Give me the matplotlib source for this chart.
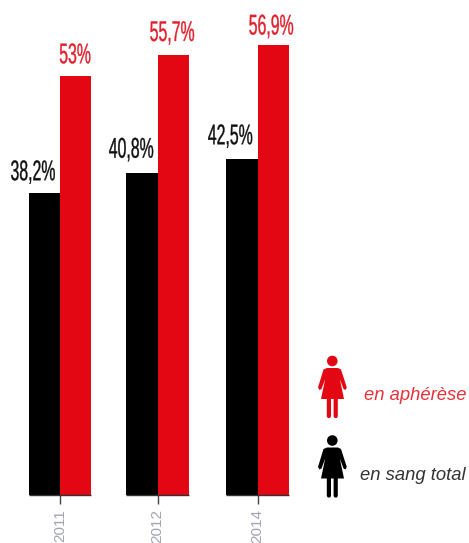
#! /usr/bin/env python3

import matplotlib
matplotlib.use('Agg')
import matplotlib.pyplot as plt
import numpy as np
from matplotlib.patches import Circle, Polygon
from matplotlib.patheffects import AbstractPathEffect
from matplotlib.transforms import Affine2D

years = ['2011', '2012', '2014']
sang_total = [38.2, 40.8, 42.5]
apherese = [53, 55.7, 56.9]
sang_labels = ['38,2%', '40,8%', '42,5%']
apherese_labels = ['53%', '55,7%', '56,9%']

RED = '#e30613'
W, H = 469, 543
BASE = 495          # pixel row of the baseline
PX_PER_UNIT = 98.75  # pixels between two groups


class Squeeze(AbstractPathEffect):
    # no condensed font here, so narrow the glyphs from their left edge
    def __init__(self, sx, stroke):
        super().__init__()
        self.sx = sx
        self.stroke = stroke

    def draw_path(self, renderer, gc, tpath, affine, rgbFace=None):
        x0 = tpath.get_extents().x0
        t = Affine2D().translate(-x0, 0).scale(self.sx, 1).translate(x0, 0)
        gc0 = renderer.new_gc()
        gc0.copy_properties(gc)
        gc0.set_foreground(rgbFace)
        gc0.set_linewidth(self.stroke)
        renderer.draw_path(gc0, tpath, t + affine, rgbFace)
        gc0.restore()


def woman(ax, dy, color):
    # pictogram, drawn in pixel coordinates of the overlay
    ax.add_patch(Circle((332.3, 361 + dy), 5.3, fc=color, ec='none'))
    body = [(327, 368), (338, 368), (341, 369.5), (346.8, 387.5), (345.5, 390),
            (343.5, 389), (339.8, 379), (344, 399), (321, 399), (325.2, 379),
            (321.5, 389), (319.5, 390), (318, 387.5), (323.5, 369.5)]
    ax.add_patch(Polygon([(x, y + dy) for x, y in body], fc=color, ec='none'))
    for x0, x1 in [(326.8, 331), (333.6, 337.8)]:
        leg = [(x0, 398), (x1, 398), (x1, 416.5), (x1 - 1, 418),
               (x0 + 1, 418), (x0, 416.5)]
        ax.add_patch(Polygon([(x, y + dy) for x, y in leg], fc=color, ec='none'))


fig = plt.figure(figsize=(W / 100, H / 100), dpi=100)
ax = fig.add_axes([0, 1 - BASE / H, 1, BASE / H])

pos = np.array([0, 0.987, 2.0])
width = 0.316
ax.bar(pos - width / 2, sang_total, width, color='black')
ax.bar(pos + width / 2, apherese, width, color=RED)
ax.hlines(np.zeros(3), pos - width, pos + width, color='#333333', lw=1, clip_on=False)

ax.set_xlim(-60.1 / PX_PER_UNIT, (W - 60.1) / PX_PER_UNIT)
ax.set_ylim(0, BASE / 7.9)
ax.set_yticks([])
ax.set_xticks(pos)
ax.set_xticklabels(years, rotation=90, fontsize=11, color='#a3a5b3',
                   family='Liberation Sans')
ax.tick_params(axis='x', length=6.5, width=1, color='#444444', pad=3.6)
for s in ax.spines.values():
    s.set_visible(False)
ax.patch.set_alpha(0)

squeeze = [Squeeze(0.557, 0.25)]
# left edge of each label relative to its bar centre, in pixels
for x, v, lab, dx, off in zip(pos, sang_total, sang_labels, [-34.5, -33.5, -34.5], [13, 15, 15]):
    ax.annotate(lab, (x - width / 2, v), xytext=(dx * 0.72, off * 0.72),
                textcoords='offset points', ha='left', va='baseline',
                fontsize=20.5, color='#111111',
                family='Liberation Sans', path_effects=squeeze)
for x, v, lab, dx, off in zip(pos, apherese, apherese_labels, [-17, -24, -25], [13, 14, 11]):
    ax.annotate(lab, (x + width / 2, v), xytext=(dx * 0.72, off * 0.72),
                textcoords='offset points', ha='left', va='baseline',
                fontsize=20.5, color='#e2202c',
                family='Liberation Sans', path_effects=squeeze)

# overlay in pixel coordinates for the pictogram legend
ov = fig.add_axes([0, 0, 1, 1])
ov.set_xlim(0, W)
ov.set_ylim(H, 0)
ov.axis('off')
woman(ov, 0, RED)
woman(ov, 79.5, 'black')
ov.text(466, 400.5, 'en aphérèse', color='#e8303a', fontsize=13.2, style='italic',
        family='Liberation Sans', ha='right', va='baseline')
ov.text(466, 480.5, 'en sang total', color='#333333', fontsize=13.2, style='italic',
        family='Liberation Sans', ha='right', va='baseline')

fig.savefig('out.png', dpi=100)
